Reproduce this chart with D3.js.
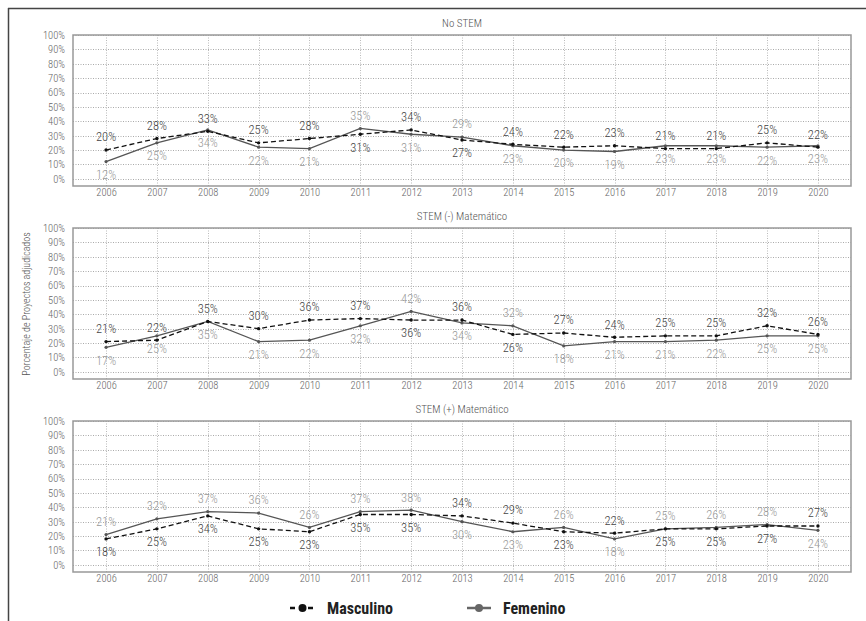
<!DOCTYPE html>
<html><head><meta charset="utf-8">
<script src="https://cdn.jsdelivr.net/npm/d3@7"></script>
<style>
html,body{margin:0;padding:0;background:#fff;}
svg{display:block;}
text{font-family:'Liberation Sans Narrow','Roboto Condensed','DejaVu Sans Condensed',sans-serif;}
</style></head>
<body>
<svg id="chart" width="866" height="621"></svg>
<script>
const years = ["2006","2007","2008","2009","2010","2011","2012","2013","2014","2015","2016","2017","2018","2019","2020"];
const panelTitles = ["No STEM", "STEM (-) Matemático", "STEM (+) Matemático"];
const yTicks = [0,10,20,30,40,50,60,70,80,90,100];

// No STEM
const mascNoStem = [20,28,33,25,28,31,34,27,24,22,23,21,21,25,22];
const femNoStem  = [12,25,34,22,21,35,31,29,23,20,19,23,23,22,23];
// STEM (-) Matemático
const mascStemMenos = [21,22,35,30,36,37,36,36,26,27,24,25,25,32,26];
const femStemMenos  = [17,25,35,21,22,32,42,34,32,18,21,21,22,25,25];
// STEM (+) Matemático
const mascStemMas = [18,25,34,25,23,35,35,34,29,23,22,25,25,27,27];
const femStemMas  = [21,32,37,36,26,37,38,30,23,26,18,25,26,28,24];

// label placement (1 = above point, -1 = below point)
const mascLabelSide = [
  [1,1,1,1,1,-1,1,-1,1,1,1,1,1,1,1],
  [1,1,1,1,1,1,-1,1,-1,1,1,1,1,1,1],
  [-1,-1,-1,-1,-1,-1,-1,1,1,-1,1,-1,-1,-1,1]
];
const femLabelSide = [
  [-1,-1,-1,-1,-1,1,-1,1,-1,-1,-1,-1,-1,-1,-1],
  [-1,-1,-1,-1,-1,-1,1,-1,1,-1,-1,-1,-1,-1,-1],
  [1,1,1,1,1,1,1,-1,-1,1,-1,1,1,1,-1]
];

const mascSeries = [mascNoStem, mascStemMenos, mascStemMas];
const femSeries = [femNoStem, femStemMenos, femStemMas];

const svg = d3.select("#chart");

// outer frame
svg.append("line").attr("x1",8).attr("x2",866).attr("y1",8.5).attr("y2",8.5)
  .attr("stroke","#444").attr("stroke-width",1.5);
svg.append("line").attr("x1",8.5).attr("x2",8.5).attr("y1",8).attr("y2",621)
  .attr("stroke","#444").attr("stroke-width",1.5);

const left = 73, right = 851, boxH = 151;
const boxTops = [35, 228, 421];

const x = d3.scalePoint().domain(years).range([left, right]).padding(0.65);

panelTitles.forEach((title, pi) => {
  const top = boxTops[pi];
  const y = d3.scaleLinear().domain([-5, 100]).range([top + boxH, top]);
  const g = svg.append("g");

  // horizontal grid
  g.selectAll(".hg").data(yTicks).join("line")
    .attr("x1", left).attr("x2", right)
    .attr("y1", d => Math.round(y(d)) + 0.5).attr("y2", d => Math.round(y(d)) + 0.5)
    .attr("stroke", "#aaa").attr("stroke-width", 1).attr("stroke-dasharray", "1,1.5");
  // vertical grid
  g.selectAll(".vg").data(years).join("line")
    .attr("x1", d => Math.round(x(d)) + 0.5).attr("x2", d => Math.round(x(d)) + 0.5)
    .attr("y1", top).attr("y2", top + boxH)
    .attr("stroke", "#bbb").attr("stroke-width", 1).attr("stroke-dasharray", "1,1.5");

  // box
  g.append("rect").attr("x", left).attr("y", top).attr("width", right - left).attr("height", boxH)
    .attr("fill", "none").attr("stroke", "#999").attr("stroke-width", 1.5);

  // y axis
  const yAxis = d3.axisLeft(y).tickValues(yTicks).tickFormat(d => d + "%").tickSize(0).tickPadding(8);
  const ya = g.append("g").attr("transform", `translate(${left},0)`).call(yAxis);
  ya.select(".domain").remove();
  ya.selectAll("text").attr("font-size", 10.5).attr("fill", "#666").attr("font-weight", 300)
    .attr("font-family", "'Liberation Sans Narrow','Roboto Condensed','DejaVu Sans Condensed',sans-serif");

  // x axis
  const xAxis = d3.axisBottom(x).tickSize(0).tickPadding(3);
  const xa = g.append("g").attr("transform", `translate(0,${top + boxH})`).call(xAxis);
  xa.select(".domain").remove();
  xa.selectAll("text").attr("font-size", 10.5).attr("fill", "#666").attr("font-weight", 300)
    .attr("font-family", "'Liberation Sans Narrow','Roboto Condensed','DejaVu Sans Condensed',sans-serif");

  // title
  g.append("text").attr("x", (left + right) / 2).attr("y", top - 8)
    .attr("text-anchor", "middle").attr("font-size", 11).attr("font-weight", 300)
    .attr("fill", "#555").text(title);

  const line = d3.line().x((d, i) => x(years[i])).y(d => y(d));

  // Femenino
  g.append("path").datum(femSeries[pi]).attr("d", line)
    .attr("fill", "none").attr("stroke", "#555").attr("stroke-width", 1.3);
  g.selectAll(".fdot").data(femSeries[pi]).join("circle")
    .attr("cx", (d, i) => x(years[i])).attr("cy", d => y(d)).attr("r", 1.6).attr("fill", "#555");

  // Masculino
  g.append("path").datum(mascSeries[pi]).attr("d", line)
    .attr("fill", "none").attr("stroke", "#111").attr("stroke-width", 1.3).attr("stroke-dasharray", "5,3");
  g.selectAll(".mdot").data(mascSeries[pi]).join("circle")
    .attr("cx", (d, i) => x(years[i])).attr("cy", d => y(d)).attr("r", 1.7).attr("fill", "#111");

  // labels
  g.selectAll(".mlab").data(mascSeries[pi]).join("text")
    .attr("x", (d, i) => x(years[i]))
    .attr("y", (d, i) => y(d) - 13 * mascLabelSide[pi][i])
    .attr("dy", "0.35em").attr("text-anchor", "middle").attr("font-weight", 300)
    .attr("font-size", 12.5).attr("fill", "#444").text(d => d + "%");
  g.selectAll(".flab").data(femSeries[pi]).join("text")
    .attr("x", (d, i) => x(years[i]))
    .attr("y", (d, i) => y(d) - 13 * femLabelSide[pi][i])
    .attr("dy", "0.35em").attr("text-anchor", "middle").attr("font-weight", 300)
    .attr("font-size", 12.5).attr("fill", "#999").text(d => d + "%");
});

// y-axis title
svg.append("text").attr("transform", "translate(30,304) rotate(-90)")
  .attr("text-anchor", "middle").attr("font-size", 10).attr("font-weight", 300).attr("fill", "#555")
  .text("Porcentaje de Proyectos adjudicados");

// legend
const legY = 608;
const lg = svg.append("g");
lg.append("line").attr("x1", 290).attr("x2", 315).attr("y1", legY).attr("y2", legY)
  .attr("stroke", "#111").attr("stroke-width", 2.5).attr("stroke-dasharray", "5,4");
lg.append("circle").attr("cx", 302.5).attr("cy", legY).attr("r", 4).attr("fill", "#111");
lg.append("text").attr("x", 327).attr("y", legY).attr("dy", "0.35em")
  .attr("font-size", 16).attr("font-weight", "bold").attr("fill", "#222").text("Masculino");
lg.append("line").attr("x1", 467).attr("x2", 491).attr("y1", legY).attr("y2", legY)
  .attr("stroke", "#666").attr("stroke-width", 2.5);
lg.append("circle").attr("cx", 479).attr("cy", legY).attr("r", 4).attr("fill", "#666");
lg.append("text").attr("x", 503).attr("y", legY).attr("dy", "0.35em")
  .attr("font-size", 16).attr("font-weight", "bold").attr("fill", "#222").text("Femenino");
</script>
</body></html>
